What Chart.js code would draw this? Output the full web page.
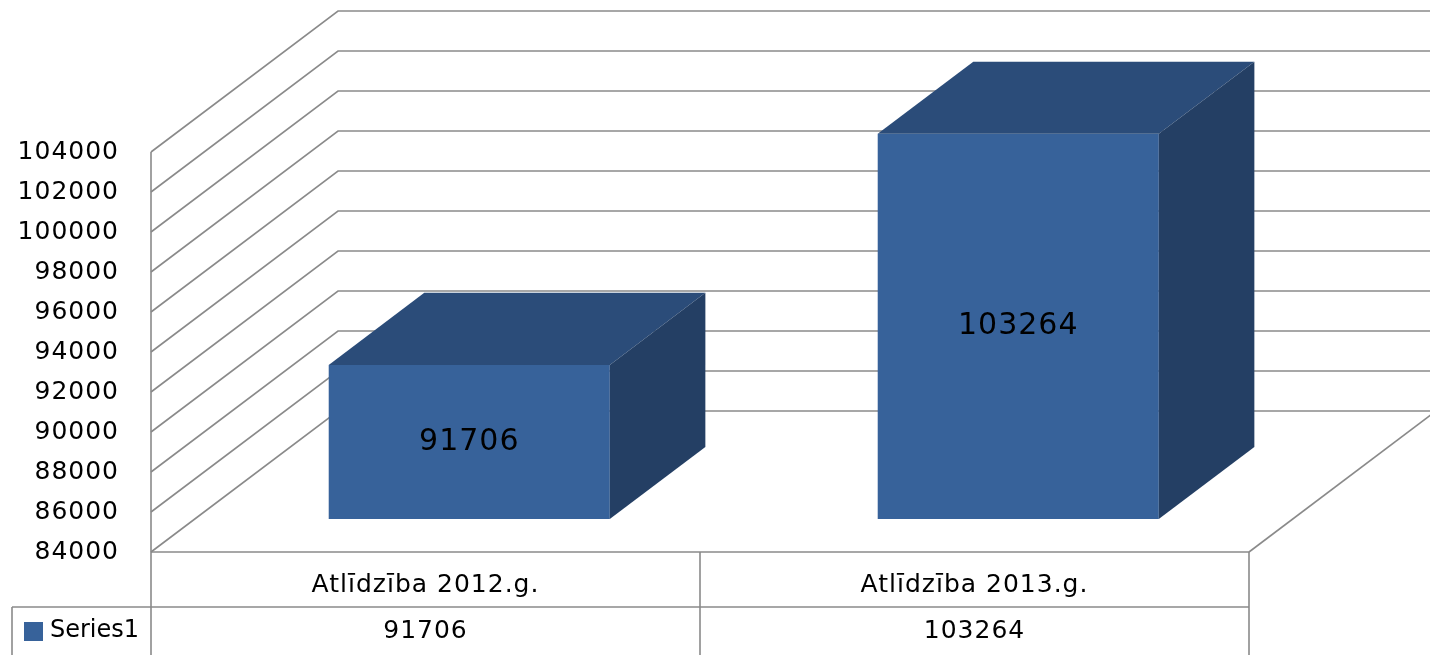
<!DOCTYPE html>
<html>
<head>
<meta charset="utf-8">
<script src="https://cdn.jsdelivr.net/npm/chart.js@4.4.0/dist/chart.umd.min.js"></script>
<style>
  html, body { margin: 0; padding: 0; background: #fff; }
  canvas { display: block; }
</style>
</head>
<body>
<canvas id="chart" width="1430" height="655"></canvas>
<script>
const categories = ['Atlīdzība 2012.g.', 'Atlīdzība 2013.g.'];
const seriesName = 'Series1';
const values = [91706, 103264];
const yMin = 84000;
const yMax = 104000;
const yStep = 2000;

const FONT = '"DejaVu Sans", sans-serif';
const GRID = '#8a8a8a';
const FRONT = '#37629a';
const TOP = '#2b4c79';
const SIDE = '#243f64';

// depth of the 3d box (walls) and where the bars sit inside it
const WALL_DX = 187, WALL_DY = -141;
const BAR_Z0 = 0.234, BAR_Z1 = 0.745;
const ROW2 = 607;
const TABLE_LEFT = 12;

function line(ctx, x1, y1, x2, y2) {
    ctx.beginPath();
    ctx.moveTo(x1, y1);
    ctx.lineTo(x2, y2);
    ctx.stroke();
}

const box3d = {
    id: 'box3d',
    beforeDraw(chart) {
        // the original font runs a little wider
        chart.ctx.letterSpacing = '1px';
    },
    beforeDatasetsDraw(chart) {
        const { ctx, chartArea: a, scales: { x, y } } = chart;
        const H = chart.height, W = chart.width;
        ctx.save();
        ctx.strokeStyle = GRID;
        ctx.lineWidth = 1.6;
        // left wall + back wall gridlines
        for (let v = yMin; v <= yMax; v += yStep) {
            const py = y.getPixelForValue(v);
            ctx.beginPath();
            ctx.moveTo(a.left, py);
            ctx.lineTo(a.left + WALL_DX, py + WALL_DY);
            ctx.lineTo(W + 10, py + WALL_DY);
            ctx.stroke();
        }
        // floor right edge
        line(ctx, a.right, a.bottom, a.right + WALL_DX, a.bottom + WALL_DY);
        // value axis
        line(ctx, a.left, y.getPixelForValue(yMax), a.left, H);
        // data table
        line(ctx, a.left, a.bottom, a.right, a.bottom);
        line(ctx, TABLE_LEFT, ROW2, a.right, ROW2);
        line(ctx, TABLE_LEFT, ROW2, TABLE_LEFT, H);
        const mid = (x.getPixelForValue(0) + x.getPixelForValue(1)) / 2;
        line(ctx, mid, a.bottom, mid, H);
        line(ctx, a.right, a.bottom, a.right, H);
        ctx.restore();

        // bars sit a bit deeper than the front plane
        ctx.save();
        ctx.translate(WALL_DX * BAR_Z0, WALL_DY * BAR_Z0);
    },
    afterDatasetsDraw(chart) {
        const { ctx, scales: { x } } = chart;
        ctx.restore();
        const sx = WALL_DX * BAR_Z0, sy = WALL_DY * BAR_Z0;
        const ddx = WALL_DX * (BAR_Z1 - BAR_Z0), ddy = WALL_DY * (BAR_Z1 - BAR_Z0);
        const meta = chart.getDatasetMeta(0);
        ctx.save();
        meta.data.forEach((el, i) => {
            const p = el.getProps(['x', 'y', 'base', 'width'], true);
            const l = p.x - p.width / 2 + sx, r = p.x + p.width / 2 + sx;
            const t = p.y + sy, b = p.base + sy;
            ctx.fillStyle = TOP;
            ctx.beginPath();
            ctx.moveTo(l, t);
            ctx.lineTo(r, t);
            ctx.lineTo(r + ddx, t + ddy);
            ctx.lineTo(l + ddx, t + ddy);
            ctx.closePath();
            ctx.fill();
            ctx.fillStyle = SIDE;
            ctx.beginPath();
            ctx.moveTo(r, t);
            ctx.lineTo(r + ddx, t + ddy);
            ctx.lineTo(r + ddx, b + ddy);
            ctx.lineTo(r, b);
            ctx.closePath();
            ctx.fill();
            ctx.fillStyle = '#000';
            ctx.font = '30px ' + FONT;
            ctx.textAlign = 'center';
            ctx.textBaseline = 'middle';
            ctx.fillText(String(values[i]), p.x + sx, (t + b) / 2);
        });

        // data table: series row
        ctx.font = '25px ' + FONT;
        ctx.fillStyle = '#000';
        ctx.textAlign = 'center';
        ctx.textBaseline = 'middle';
        values.forEach((v, i) => {
            ctx.fillText(String(v), x.getPixelForValue(i), 631);
        });
        ctx.fillStyle = FRONT;
        ctx.fillRect(24, 622, 19, 19);
        ctx.fillStyle = '#000';
        ctx.textAlign = 'left';
        ctx.letterSpacing = '0px';
        ctx.font = '24px ' + FONT;
        ctx.fillText(seriesName, 50, 631);
        ctx.restore();
    }
};

const ctx = document.getElementById('chart').getContext('2d');
new Chart(ctx, {
    type: 'bar',
    data: {
        labels: categories,
        datasets: [{
            label: seriesName,
            data: values,
            base: yMin,
            backgroundColor: FRONT,
            borderWidth: 0,
            categoryPercentage: 1,
            barPercentage: 0.512,
            clip: false
        }]
    },
    options: {
        responsive: false,
        animation: false,
        devicePixelRatio: 1,
        layout: { padding: { top: 152, right: 181, left: 0, bottom: 0 } },
        scales: {
            x: {
                grid: { display: false, drawTicks: false },
                border: { display: false },
                ticks: { color: '#000', font: { family: FONT, size: 25 }, padding: 18, maxRotation: 0 },
                afterFit: s => { s.height = 103; }
            },
            y: {
                min: yMin,
                max: yMax,
                grid: { display: false, drawTicks: false },
                border: { display: false },
                ticks: {
                    stepSize: yStep, color: '#000', font: { family: FONT, size: 25 }, padding: 32,
                    callback: v => String(v)
                },
                afterFit: s => { s.width = 151; }
            }
        },
        plugins: {
            legend: { display: false },
            tooltip: { enabled: false }
        }
    },
    plugins: [box3d]
});
</script>
</body>
</html>
